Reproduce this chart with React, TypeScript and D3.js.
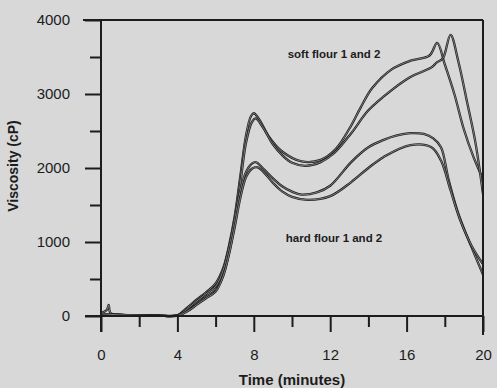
import React, { useEffect, useRef } from "react";
import * as d3 from "d3";

// RVA pasting curves (time in minutes, viscosity in cP)
const SOFT_1_T = [0, 0.3, 0.4, 0.5, 1, 2, 3, 4, 4.5, 5, 5.5, 6, 6.4, 6.7, 7, 7.3, 7.6, 7.85, 8, 8.3, 8.8, 9.5, 10.5, 11.5, 12.3, 13, 13.6, 14.2, 15.2, 16.2, 17.2, 17.6, 18, 18.5, 19, 19.5, 20];
const SOFT_1_V = [40, 80, 150, 40, 20, 10, 5, 10, 110, 220, 320, 440, 650, 950, 1350, 1900, 2450, 2700, 2740, 2650, 2420, 2220, 2090, 2110, 2260, 2530, 2820, 3080, 3330, 3450, 3520, 3690, 3400, 3000, 2520, 2150, 1850];

const SOFT_2_T = [0, 1, 2, 3, 4, 4.5, 5, 5.5, 6, 6.4, 6.7, 7, 7.3, 7.6, 7.9, 8.1, 8.5, 9, 9.5, 10, 10.7, 11.5, 12.2, 13.1, 14, 15.2, 16.2, 17.3, 17.6, 17.9, 18.3, 18.7, 19.2, 19.6, 20];
const SOFT_2_V = [30, 15, 10, 5, 5, 70, 160, 260, 350, 560, 850, 1250, 1800, 2350, 2620, 2670, 2540, 2320, 2170, 2070, 2030, 2080, 2200, 2470, 2780, 3050, 3230, 3360, 3430, 3480, 3800, 3450, 2850, 2350, 1650];

const HARD_1_T = [0, 1, 2, 3, 4, 4.5, 5, 5.5, 6, 6.4, 6.7, 7, 7.3, 7.6, 7.9, 8.1, 8.5, 9, 9.5, 10, 10.5, 11.3, 12, 13.1, 14, 14.8, 15.5, 16.2, 16.9, 17.4, 17.8, 18.2, 18.7, 19.4, 20];
const HARD_1_V = [30, 15, 10, 5, 10, 90, 200, 300, 400, 620, 920, 1300, 1700, 1950, 2060, 2080, 1990, 1860, 1750, 1680, 1640, 1670, 1760, 2080, 2280, 2380, 2440, 2470, 2460, 2400, 2280, 1840, 1390, 930, 560];

const HARD_2_T = [0, 1, 2, 3, 4, 4.5, 5, 5.5, 6, 6.4, 6.7, 7, 7.3, 7.6, 7.9, 8.2, 8.6, 9, 9.5, 10, 10.8, 12, 13.1, 14, 14.8, 16.2, 17.3, 17.8, 18.3, 18.8, 19.4, 20];
const HARD_2_V = [30, 15, 10, 5, 5, 60, 150, 240, 330, 540, 830, 1200, 1600, 1880, 1990, 2010, 1920, 1800, 1680, 1610, 1570, 1620, 1810, 2000, 2150, 2310, 2280, 2100, 1700, 1300, 950, 700];

const SERIES = [
  { t: SOFT_1_T, v: SOFT_1_V },
  { t: SOFT_2_T, v: SOFT_2_V },
  { t: HARD_1_T, v: HARD_1_V },
  { t: HARD_2_T, v: HARD_2_V },
];

const X_MAJOR = [0, 4, 8, 12, 16, 20];
const X_MINOR = [2, 6, 10, 14, 18];
const Y_MAJOR = [0, 1000, 2000, 3000, 4000];
const Y_MINOR = [500, 1500, 2500, 3500];

const LABELS = [
  { text: "soft flour 1 and 2", t: 12.2, v: 3480 },
  { text: "hard flour 1 and 2", t: 12.2, v: 1000 },
];

const WIDTH = 497;
const HEIGHT = 388;
const BG = "#d8d8d8";
const INK = "#1c1c1c";
const FONT = "'Liberation Sans', Arial, sans-serif";

export default function App() {
  const ref = useRef<SVGSVGElement>(null);

  useEffect(() => {
    const svg = d3.select(ref.current);
    svg.selectAll("*").remove();

    const x = d3.scaleLinear().domain([0, 20]).range([101, 483]);
    const y = d3.scaleLinear().domain([0, 4000]).range([316, 20]);

    svg.append("rect").attr("width", WIDTH).attr("height", HEIGHT).attr("fill", BG);

    // curves
    const line = d3
      .line<[number, number]>()
      .x((d) => x(d[0]))
      .y((d) => y(d[1]))
      .curve(d3.curveCatmullRom.alpha(0.5));

    const g = svg.append("g");
    SERIES.forEach((s) => {
      const pts = s.t.map((t, i) => [t, s.v[i]] as [number, number]);
      g.append("path").attr("d", line(pts)).attr("fill", "none").attr("stroke", INK).attr("stroke-width", 2.3);
      g.append("path").attr("d", line(pts)).attr("fill", "none").attr("stroke", "#bdbdbd").attr("stroke-width", 0.6);
    });

    const styleAxis = (sel: any) => {
      sel.select(".domain").remove();
      sel.selectAll("line").attr("stroke", INK).attr("stroke-width", 2);
      sel.selectAll("text").attr("fill", INK).style("font-family", FONT).style("font-size", "15px");
    };

    // x axis
    svg
      .append("g")
      .attr("transform", `translate(0,${y(0)})`)
      .call(d3.axisBottom(x).tickValues(X_MAJOR).tickSize(16).tickPadding(17).tickFormat(d3.format("d")))
      .call(styleAxis);
    svg
      .append("g")
      .attr("transform", `translate(0,${y(0)})`)
      .call(d3.axisBottom(x).tickValues(X_MINOR).tickSize(11).tickFormat(() => ""))
      .call(styleAxis);

    // y axis
    svg
      .append("g")
      .attr("transform", `translate(${x(0)},0)`)
      .call(d3.axisLeft(y).tickValues(Y_MAJOR).tickSize(16).tickPadding(15).tickFormat(d3.format("d")))
      .call(styleAxis);
    svg
      .append("g")
      .attr("transform", `translate(${x(0)},0)`)
      .call(d3.axisLeft(y).tickValues(Y_MINOR).tickSize(11).tickFormat(() => ""))
      .call(styleAxis);

    // axis lines and frame
    const frame = svg.append("g").attr("stroke", INK).attr("stroke-width", 2).attr("fill", "none");
    frame.append("line").attr("x1", x(0)).attr("x2", x(0)).attr("y1", y(4000)).attr("y2", y(0) + 16);
    frame.append("line").attr("x1", x(0) - 16).attr("x2", x(20)).attr("y1", y(0)).attr("y2", y(0));
    frame.append("line").attr("x1", x(0) - 18).attr("x2", x(20)).attr("y1", y(4000)).attr("y2", y(4000));
    frame.append("line").attr("x1", x(20)).attr("x2", x(20)).attr("y1", y(4000)).attr("y2", y(0) + 19);

    // annotations
    svg
      .selectAll(".ann")
      .data(LABELS)
      .enter()
      .append("text")
      .attr("x", (d) => x(d.t))
      .attr("y", (d) => y(d.v))
      .attr("text-anchor", "middle")
      .attr("fill", INK)
      .style("font-family", FONT)
      .style("font-weight", "bold")
      .style("font-size", "11.5px")
      .text((d) => d.text);

    // axis titles
    svg
      .append("text")
      .attr("x", (x(0) + x(20)) / 2)
      .attr("y", 385)
      .attr("text-anchor", "middle")
      .attr("fill", INK)
      .style("font-family", FONT)
      .style("font-weight", "bold")
      .style("font-size", "15px")
      .text("Time (minutes)");

    svg
      .append("text")
      .attr("transform", "translate(18,166) rotate(-90)")
      .attr("text-anchor", "middle")
      .attr("fill", INK)
      .style("font-family", FONT)
      .style("font-weight", "bold")
      .style("font-size", "14px")
      .text("Viscosity (cP)");
  }, []);

  return (
    <div style={{ position: "absolute", left: 0, top: 0 }}>
      <svg ref={ref} width={WIDTH} height={HEIGHT} style={{ display: "block" }} />
    </div>
  );
}
